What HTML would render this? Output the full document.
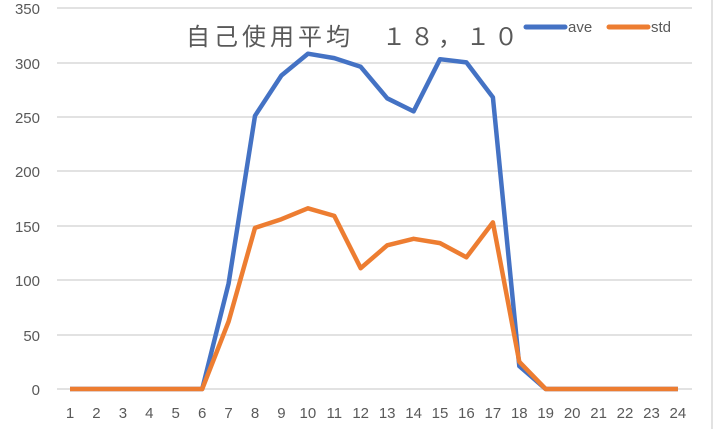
<!DOCTYPE html><html><head><meta charset="utf-8"><style>body{margin:0;background:#fff}svg{display:block}text{font-family:"Liberation Sans","Noto Sans CJK JP",sans-serif;fill:#595959}</style></head><body>
<svg width="717" height="429" viewBox="0 0 717 429">
<g stroke="#d9d9d9" stroke-width="1.5">
<line x1="57" x2="692" y1="8" y2="8"/><line x1="57" x2="692" y1="63" y2="63"/><line x1="57" x2="692" y1="117" y2="117"/><line x1="57" x2="692" y1="171" y2="171"/><line x1="57" x2="692" y1="226" y2="226"/><line x1="57" x2="692" y1="280" y2="280"/><line x1="57" x2="692" y1="335" y2="335"/><line x1="57" x2="692" y1="389" y2="389"/>
<line x1="712" x2="712" y1="0" y2="429"/>
</g>
<g font-size="15" text-anchor="end">
<text x="40" y="14">350</text><text x="40" y="69">300</text><text x="40" y="123">250</text><text x="40" y="177">200</text><text x="40" y="232">150</text><text x="40" y="286">100</text><text x="40" y="341">50</text><text x="40" y="395">0</text>
</g>
<g font-size="15" text-anchor="middle" id="xl"></g>
<text x="186" y="45" font-size="24" style="letter-spacing:4px">自己使用平均　１８，１０</text>
<line x1="526" x2="565" y1="27" y2="27" stroke="#4472c4" stroke-width="5" stroke-linecap="round"/><text x="568" y="32" font-size="15">ave</text>
<line x1="609" x2="648" y1="27" y2="27" stroke="#ed7d31" stroke-width="5" stroke-linecap="round"/><text x="651" y="32" font-size="15">std</text>
<polyline id="a" fill="none" stroke="#4472c4" stroke-width="4.5" stroke-linejoin="round"/>
<polyline id="s" fill="none" stroke="#ed7d31" stroke-width="4.5" stroke-linejoin="round"/>
</svg>
<script>
var A=[0,0,0,0,0,0,97,251,288,308,304,296,267,255,303,300,268,21,0,0,0,0,0,0],S=[0,0,0,0,0,0,62,148,156,166,159,111,132,138,134,121,153,25,0,0,0,0,0,0];
function p(d){return d.map((v,i)=>(70+i*26.43).toFixed(1)+","+(389-v*1.0886).toFixed(1)).join(" ")}
document.getElementById("a").setAttribute("points",p(A));document.getElementById("s").setAttribute("points",p(S));
var g=document.getElementById("xl"),h="";for(var i=0;i<24;i++)h+='<text x="'+(70+i*26.43).toFixed(1)+'" y="418">'+(i+1)+'</text>';g.innerHTML=h;
</script>
</body></html>
